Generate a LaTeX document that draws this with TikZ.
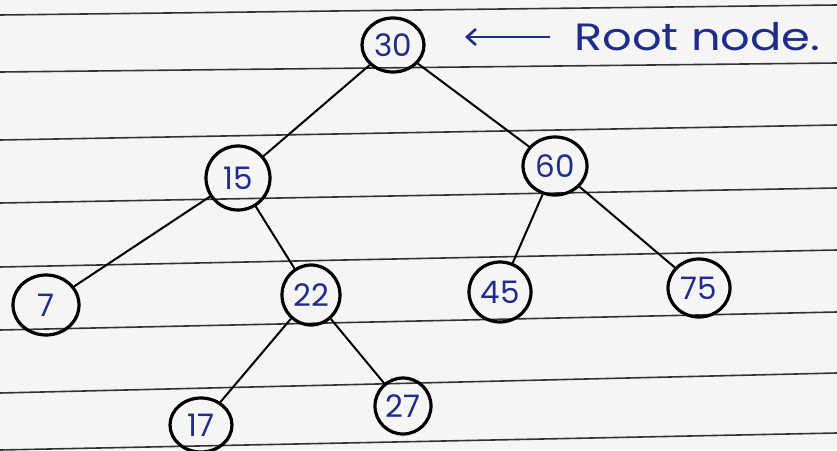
\documentclass[tikz,border=0pt]{standalone}
\usepackage{fontspec}
\setmainfont{Poppins}
\usetikzlibrary{shapes.geometric,arrows.meta}
\definecolor{paper}{HTML}{F5F5F3}
\definecolor{rule}{HTML}{333333}
\definecolor{ink}{HTML}{1F2C8C}
\tikzset{
  tnode/.style={ellipse,draw=black,line width=3.2pt,inner sep=0pt,
     minimum width=60pt,minimum height=56pt,text=ink,font=\fontsize{31}{31}\selectfont},
  edge/.style={draw=black,line width=2pt},
  ruling/.style={draw=rule,line width=1.6pt}
}
\begin{document}
\begin{tikzpicture}[x=1pt,y=-1pt]
\fill[paper] (0,0) rectangle (837,450);
\useasboundingbox (0,0) rectangle (837,450);
% ruled lines
\draw[ruling] (0,15) -- (837,5);
\draw[ruling] (0,72) -- (837,63);
\draw[ruling] (0,140) -- (837,125);
\draw[ruling] (0,203) -- (837,188);
\draw[ruling] (0,267) -- (837,250);
\draw[ruling] (0,330) -- (837,312);
\draw[ruling] (0,393) -- (837,373);
\draw[ruling] (0,450) -- (837,433);
% nodes
\node[tnode,minimum width=62pt,minimum height=54pt] (n30) at (393,45) {30};
\node[tnode,minimum width=64pt,minimum height=64pt] (n15) at (238,178) {15};
\node[tnode,minimum width=64pt,minimum height=58pt] (n60) at (555,166) {60};
\node[tnode,minimum width=66pt,minimum height=60pt] (n7) at (46,305) {7};
\node[tnode,minimum width=58pt,minimum height=60pt] (n22) at (311,295) {22};
\node[tnode,minimum width=62pt,minimum height=60pt] (n45) at (500,292) {45};
\node[tnode,minimum width=62pt,minimum height=58pt] (n75) at (699,288) {75};
\node[tnode,minimum width=62pt,minimum height=54pt] (n17) at (201,425) {17};
\node[tnode,minimum width=56pt,minimum height=56pt] (n27) at (403,406) {27};
% edges
\draw[edge] (n30) -- (n15);
\draw[edge] (n30) -- (n60);
\draw[edge] (n15) -- (n7);
\draw[edge] (n15) -- (n22);
\draw[edge] (n60) -- (n45);
\draw[edge] (n60) -- (n75);
\draw[edge] (n22) -- (n17);
\draw[edge] (n22) -- (n27);
% root label
\coordinate (arrS) at (550,37);
\coordinate (arrE) at (465,37);
\draw[ink,line width=2.6pt,-{Straight Barb[length=9pt,width=16pt,line width=2.6pt]}] (arrS) -- (arrE);
\node[text=ink,anchor=west,font=\fontsize{38}{38}\selectfont,xscale=1.22,inner sep=0pt] (lbl) at (574,37) {Root node.};
\end{tikzpicture}
\end{document}
